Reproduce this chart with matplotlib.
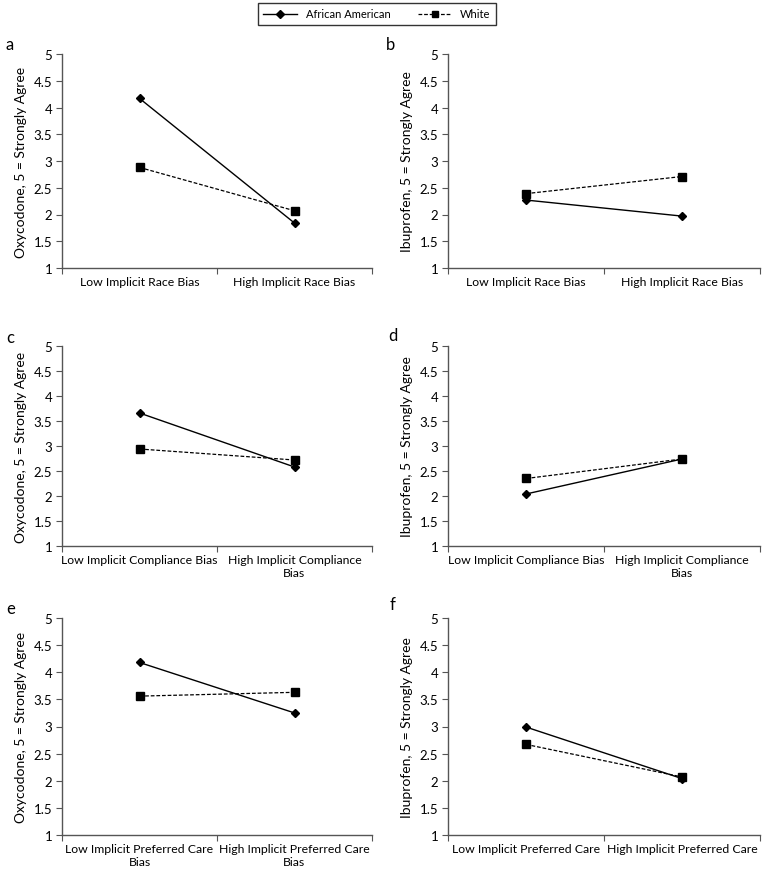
import matplotlib
matplotlib.use("Agg")
import matplotlib.pyplot as plt
from matplotlib.lines import Line2D

# ---------------------------------------------------
# Data
# ---------------------------------------------------
panel_letters = ["a", "b", "c", "d", "e", "f"]
ylabels = ["Oxycodone, 5 = Strongly Agree", "Ibuprofen, 5 = Strongly Agree"] * 3
xlabels_a = ["Low Implicit Race Bias", "High Implicit Race Bias"]
xlabels_c = ["Low Implicit Compliance Bias", "High Implicit Compliance\nBias"]
xlabels_e = ["Low Implicit Preferred Care\nBias", "High Implicit Preferred Care\nBias"]
xlabels_f = ["Low Implicit Preferred Care", "High Implicit Preferred Care"]
panel_xlabels = [xlabels_a, xlabels_a, xlabels_c, xlabels_c, xlabels_e, xlabels_f]

african_american = [
    [4.17, 1.84],
    [2.27, 1.97],
    [3.66, 2.58],
    [2.04, 2.74],
    [4.18, 3.25],
    [2.99, 2.04],
]
white = [
    [2.88, 2.07],
    [2.39, 2.71],
    [2.94, 2.72],
    [2.35, 2.74],
    [3.56, 3.63],
    [2.67, 2.07],
]

yticks = [1, 1.5, 2, 2.5, 3, 3.5, 4, 4.5, 5]
ytick_labels = ["1", "1.5", "2", "2.5", "3", "3.5", "4", "4.5", "5"]

# ---------------------------------------------------
# Figure layout (pixel boxes for each panel)
# ---------------------------------------------------
W, H = 762, 870
plt.rcParams["font.family"] = ["Lato", "DejaVu Sans"]
fig = plt.figure(figsize=(W / 100, H / 100), dpi=100)

# left, right, top(5), bottom(1) in pixels
boxes = [
    (62, 372, 55, 269),
    (448, 760, 55, 269),
    (62, 372, 347, 547),
    (448, 760, 347, 547),
    (62, 372, 619, 836),
    (448, 760, 619, 836),
]
letter_pos = [(6, 45), (386, 45), (6, 338), (388, 336), (6, 609), (390, 605)]

axis_col = "#555555"

for i in range(6):
    l, r, t, b = boxes[i]
    ax = fig.add_axes([l / W, 1 - b / H, (r - l) / W, (b - t) / H])
    x = [0.5, 1.5]
    ax.plot(x, white[i], color="black", linestyle=(0, (3, 1.5)), linewidth=0.9,
            marker="s", markersize=6, zorder=3)
    ax.plot(x, african_american[i], color="black", linestyle="-", linewidth=1.0,
            marker="D", markersize=4.5, zorder=4)

    ax.set_xlim(0, 2)
    ax.set_ylim(1, 5)
    ax.set_yticks(yticks)
    ax.set_yticklabels(ytick_labels)
    ax.set_xticks([0, 1, 2])
    ax.set_xticklabels([])
    ax.set_xticks(x, minor=True)
    ax.set_xticklabels(panel_xlabels[i], minor=True, linespacing=1.2)
    ax.tick_params(axis="x", which="minor", length=0, labelsize=8.8, pad=6)
    ax.tick_params(axis="x", which="major", length=4, color=axis_col, direction="out")
    ax.tick_params(axis="y", length=4, color=axis_col, labelsize=9.5, pad=3)
    for s in ["top", "right"]:
        ax.spines[s].set_visible(False)
    for s in ["left", "bottom"]:
        ax.spines[s].set_color(axis_col)
        ax.spines[s].set_linewidth(1.0)
    ax.set_ylabel(ylabels[i], fontsize=10, labelpad=5)

    lx, ly = letter_pos[i]
    fig.text(lx / W, 1 - ly / H, panel_letters[i], fontsize=12, va="center", ha="left")

# ---------------------------------------------------
# Legend at the top
# ---------------------------------------------------
handles = [
    Line2D([], [], color="black", linestyle="-", linewidth=1.0, marker="D", markersize=4),
    Line2D([], [], color="black", linestyle=(0, (3, 1.5)), linewidth=0.9, marker="s", markersize=5),
]
leg = fig.legend(handles, ["African American", "White"], loc="center",
                 bbox_to_anchor=(377 / W, 1 - 15 / H), ncol=2, fontsize=8,
                 frameon=True, fancybox=False, edgecolor="black", handlelength=3,
                 columnspacing=2.5, borderpad=0.5)
leg.get_frame().set_linewidth(1.0)

plt.savefig("out.png", dpi=100)
